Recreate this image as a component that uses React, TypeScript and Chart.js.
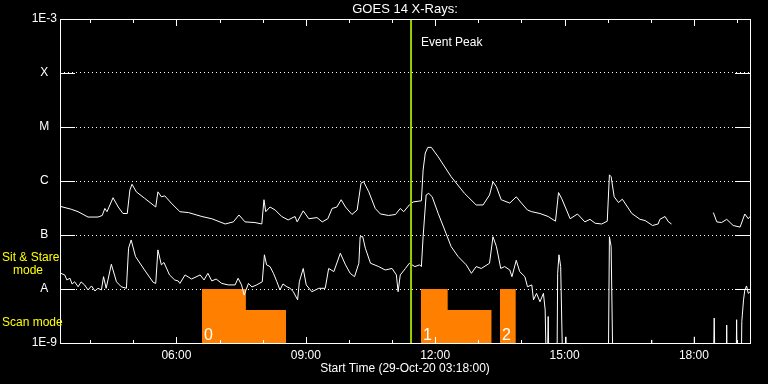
import React, { useEffect, useRef } from 'react';
import { Chart, registerables } from 'chart.js';

Chart.register(...registerables);

const FONT = "'Liberation Sans', Arial, sans-serif";

const chartTitle = 'GOES 14 X-Rays:';
const xAxisTitle = 'Start Time (29-Oct-20 03:18:00)';
const timeMin = 3.3;
const timeMax = 19.3;
const xHourTicks = [4, 5, 6, 7, 8, 9, 10, 11, 12, 13, 14, 15, 16, 17, 18, 19];
const xMajorHours = [6, 9, 12, 15, 18];
const xMajorLabels = ['06:00', '09:00', '12:00', '15:00', '18:00'];
const yTickValues = [1e-9, 1e-8, 1e-7, 1e-6, 1e-5, 1e-4, 1e-3];
const yTickLabels = ['1E-9', 'A', 'B', 'C', 'M', 'X', '1E-3'];

// Long channel (upper curve): time in hours, flux in W/m^2
const upperTime = [
  3.30, 3.56, 3.72, 3.95, 4.18, 4.28, 4.34, 4.39, 4.53, 4.65,
  4.76, 4.86, 4.92, 4.97, 5.07, 5.26, 5.46, 5.52, 5.57, 5.65,
  5.73, 5.88, 6.04, 6.08, 6.28, 6.59, 6.82, 7.13, 7.32, 7.45,
  7.59, 7.82, 7.98, 8.03, 8.07, 8.17, 8.29, 8.44, 8.59, 8.75,
  8.80, 8.94, 9.07, 9.26, 9.38, 9.51, 9.61, 9.72, 9.82, 9.92,
  10.07, 10.19, 10.28, 10.34, 10.46, 10.61, 10.73, 10.92, 11.08, 11.19,
  11.27, 11.40, 11.49, 11.68, 11.72, 11.77, 11.83, 11.91, 12.07, 12.37,
  12.68, 12.95, 13.11, 13.26, 13.34, 13.42, 13.53, 13.73, 13.88, 14.00,
  14.14, 14.24, 14.43, 14.62, 14.79, 14.86, 14.93, 15.13, 15.30, 15.47,
  15.59, 15.71, 15.86, 15.99, 16.04, 16.08, 16.15, 16.25, 16.34, 16.56,
  16.75, 16.87, 17.04, 17.17, 17.21, 17.33, 17.41, 17.48, 17.90, 18.45,
  18.53, 18.64, 18.76, 18.91, 19.07, 19.18, 19.26, 19.30,
];
const upperFlux = [
  3.4e-7, 3.0e-7, 2.7e-7, 2.15e-7, 2.15e-7, 2.3e-7, 3.1e-7, 2.7e-7, 4.9e-7, 3.3e-7,
  2.5e-7, 2.5e-7, 6.8e-7, 8.7e-7, 6.3e-7, 4.8e-7, 3.6e-7, 3.3e-7, 6.3e-7, 5.1e-7,
  5.3e-7, 3.9e-7, 2.9e-7, 2.7e-7, 2.6e-7, 2.2e-7, 2.0e-7, 1.6e-7, 1.75e-7, 2.35e-7,
  1.75e-7, 1.7e-7, 1.6e-7, 4.5e-7, 2.7e-7, 3.3e-7, 2.9e-7, 2.2e-7, 1.9e-7, 2.2e-7,
  1.75e-7, 2.8e-7, 2.0e-7, 2.1e-7, 1.75e-7, 2.0e-7, 3.1e-7, 3.3e-7, 4.5e-7, 3.3e-7,
  2.4e-7, 2.9e-7, 9.1e-7, 9.7e-7, 6.3e-7, 3.1e-7, 2.45e-7, 2.3e-7, 2.4e-7, 3.1e-7,
  2.7e-7, 3.6e-7, 4.1e-7, 4.3e-7, 1.6e-6, 3.3e-6, 4.2e-6, 4.2e-6, 2.8e-6, 1.2e-6,
  5.9e-7, 3.6e-7, 3.6e-7, 5.5e-7, 9.7e-7, 7.8e-7, 4.5e-7, 3.9e-7, 5.1e-7, 3.9e-7,
  2.9e-7, 2.7e-7, 2.5e-7, 2.2e-7, 1.8e-7, 6.1e-7, 4.8e-7, 2.0e-7, 2.45e-7, 1.75e-7,
  1.95e-7, 1.65e-7, 1.6e-7, 1.8e-7, 1.3e-6, 1.2e-6, 5.1e-7, 4.0e-7, 4.6e-7, 2.5e-7,
  1.95e-7, 1.85e-7, 1.5e-7, 1.6e-7, 1.95e-7, 2.2e-7, 1.75e-7, 1.6e-7, null, 2.6e-7,
  1.75e-7, 1.7e-7, 1.95e-7, 1.5e-7, 1.4e-7, 2.45e-7, 2.0e-7, 2.2e-7,
];

// Short channel (lower curve); 1e-10 = below the plotted range
const lowerTime = [
  3.32, 3.41, 3.46, 3.53, 3.58, 3.64, 3.72, 3.79, 3.87, 3.95,
  4.03, 4.11, 4.18, 4.26, 4.31, 4.37, 4.49, 4.61, 4.72, 4.84,
  4.89, 4.95, 5.05, 5.26, 5.46, 5.52, 5.57, 5.65, 5.71, 5.84,
  5.96, 6.04, 6.08, 6.20, 6.35, 6.55, 6.64, 6.73, 6.82, 6.92,
  7.05, 7.20, 7.36, 7.43, 7.51, 7.57, 7.67, 7.75, 7.86, 7.99,
  8.04, 8.09, 8.17, 8.25, 8.33, 8.40, 8.47, 8.56, 8.63, 8.71,
  8.81, 8.85, 8.94, 9.01, 9.14, 9.30, 9.45, 9.53, 9.65, 9.80,
  9.92, 10.03, 10.13, 10.23, 10.26, 10.32, 10.38, 10.50, 10.69, 10.84,
  11.00, 11.10, 11.14, 11.19, 11.31, 11.40, 11.53, 11.64, 11.68, 11.72,
  11.79, 11.85, 11.93, 12.07, 12.22, 12.37, 12.53, 12.72, 12.84, 12.95,
  13.07, 13.26, 13.34, 13.42, 13.52, 13.61, 13.73, 13.78, 13.88, 13.96,
  14.08, 14.14, 14.24, 14.28, 14.35, 14.43, 14.51, 14.55, 14.59, 14.62,
  14.65, 14.82, 14.84, 14.87, 14.91, 14.97, 15.00, 15.03, 15.06, 16.01,
  16.04, 16.08, 16.13, 17.00, 17.02, 17.04, 17.99, 18.01, 18.03, 18.44,
  18.47, 18.50, 18.74, 18.76, 18.78, 18.97, 18.99, 19.01, 19.09, 19.11,
  19.15, 19.18, 19.22, 19.26, 19.30,
];
const lowerFlux = [
  1.95e-8, 1.82e-8, 1.47e-8, 1.58e-8, 1.24e-8, 1.36e-8, 1.10e-8, 1.35e-8, 1.19e-8, 9.6e-9,
  1.14e-8, 9.2e-9, 1.03e-8, 9.6e-9, 1.69e-8, 1.03e-8, 2.87e-8, 1.36e-8, 1.10e-8, 1.03e-8,
  5.7e-8, 8.1e-8, 4.0e-8, 2.25e-8, 1.33e-8, 1.27e-8, 5.3e-8, 2.8e-8, 3.1e-8, 1.82e-8,
  1.47e-8, 1.41e-8, 1.27e-8, 1.82e-8, 1.53e-8, 1.82e-8, 1.47e-8, 1.95e-8, 1.41e-8, 1.53e-8,
  1.27e-8, 1.19e-8, 1.19e-8, 1.58e-8, 1.19e-8, 7.7e-9, 1.27e-8, 1.09e-8, 1.19e-8, 1.36e-8,
  4.3e-8, 2.8e-8, 2.6e-8, 1.95e-8, 1.36e-8, 9.6e-9, 1.24e-8, 1.10e-8, 1.04e-8, 8.9e-9,
  6.3e-9, 1.36e-8, 2.4e-8, 1.19e-8, 8.9e-9, 1.03e-8, 1.03e-8, 2.4e-8, 2.1e-8, 4.6e-8,
  2.8e-8, 1.95e-8, 1.69e-8, 3.0e-8, 9.3e-8, 9.3e-8, 5.7e-8, 3.0e-8, 2.6e-8, 2.25e-8,
  2.4e-8, 1.82e-8, 8.9e-9, 1.82e-8, 2.4e-8, 3.0e-8, 2.6e-8, 2.8e-8, 2.6e-8, 9.3e-8,
  5.5e-7, 5.9e-7, 5.1e-7, 2.5e-7, 1.24e-7, 6.1e-8, 4.0e-8, 2.8e-8, 1.95e-8, 2.6e-8,
  2.4e-8, 3.0e-8, 9.3e-8, 6.1e-8, 2.4e-8, 2.6e-8, 2.25e-8, 1.69e-8, 3.4e-8, 2.1e-8,
  1.69e-8, 1.10e-8, 1.19e-8, 6.3e-9, 8.3e-9, 5.8e-9, 8.3e-9, 4.1e-9, 1e-10, 3.1e-9,
  1e-10, 1e-10, 1.95e-8, 4.3e-8, 2.6e-8, 1e-10, 1e-10, 1.3e-9, 1e-10, 1e-10,
  9.3e-8, 6.1e-8, 1e-10, 1e-10, 1.14e-9, 1e-10, 1e-10, 1.3e-9, 1e-10, 1e-10,
  2.9e-9, 1e-10, 1e-10, 2.15e-9, 1e-10, 1e-10, 2.7e-9, 1e-10, 1e-10, 2.5e-9,
  6.3e-9, 9.6e-9, 1.14e-8, 8.3e-9, 8.9e-9,
];

// Scan-mode blocks (stepped, null separates blocks)
const scanTime = [6.59, 7.61, 8.54, 8.60, 11.67, 12.29, 13.31, 13.40, 13.50, 13.87];
const scanLevel = [1e-8, 4.1e-9, 4.1e-9, null, 1e-8, 4.1e-9, 4.1e-9, null, 1e-8, 1e-8];
const scanLabels = ['0', '1', '2'];
const scanLabelTime = [6.59, 11.67, 13.50];

const eventPeakTime = 11.44;
const eventPeakLabel = 'Event Peak';
const sitStareLines = ['Sit & Stare', 'mode'];
const scanModeLabel = 'Scan mode';

const overlayPlugin = {
  id: 'overlay',
  afterDatasetsDraw(chart: any) {
    const { ctx, chartArea: a, scales } = chart;
    const x = scales.x;
    const y = scales.y;
    ctx.save();
    ctx.strokeStyle = '#ffffff';
    ctx.lineWidth = 1;
    ctx.setLineDash([]);
    // frame
    ctx.strokeRect(a.left + 0.5, a.top + 0.5, a.right - a.left, a.bottom - a.top);
    ctx.beginPath();
    // y ticks (both sides)
    yTickValues.forEach((v) => {
      const py = Math.round(y.getPixelForValue(v)) + 0.5;
      ctx.moveTo(a.left, py);
      ctx.lineTo(a.left + 15, py);
      ctx.moveTo(a.right - 15, py);
      ctx.lineTo(a.right + 1, py);
    });
    // x ticks (top and bottom, inside)
    xHourTicks.forEach((h) => {
      const px = Math.round(x.getPixelForValue(h)) + 0.5;
      const len = xMajorHours.includes(h) ? 7 : 4;
      ctx.moveTo(px, a.top);
      ctx.lineTo(px, a.top + len);
      ctx.moveTo(px, a.bottom + 1);
      ctx.lineTo(px, a.bottom + 1 - len);
    });
    ctx.stroke();

    ctx.fillStyle = '#ffffff';
    ctx.font = `12px ${FONT}`;
    ctx.textBaseline = 'middle';
    ctx.textAlign = 'left';
    ctx.fillText(eventPeakLabel, x.getPixelForValue(eventPeakTime) + 10, a.top + 24);

    ctx.font = `16px ${FONT}`;
    ctx.textBaseline = 'alphabetic';
    scanLabels.forEach((lab, i) => {
      ctx.fillText(lab, x.getPixelForValue(scanLabelTime[i]) + 2, a.bottom - 3);
    });

    ctx.fillStyle = '#ffff00';
    ctx.font = `12px ${FONT}`;
    ctx.textBaseline = 'middle';
    ctx.fillText(sitStareLines[0], 2, 258);
    ctx.fillText(sitStareLines[1], 13, 271);
    ctx.fillText(scanModeLabel, 2, 323);
    ctx.restore();
  },
};

export default function App() {
  const ref = useRef<HTMLCanvasElement>(null);

  useEffect(() => {
    const upperData = upperTime.map((t, i) => ({ x: t, y: upperFlux[i] }));
    const lowerData = lowerTime.map((t, i) => ({ x: t, y: lowerFlux[i] }));
    const scanData = scanTime.map((t, i) => ({ x: t, y: scanLevel[i] }));
    const peakData = [
      { x: eventPeakTime, y: yTickValues[0] },
      { x: eventPeakTime, y: yTickValues[yTickValues.length - 1] },
    ];

    const chart = new Chart(ref.current as HTMLCanvasElement, {
      type: 'line',
      data: {
        datasets: [
          {
            label: 'Event Peak',
            data: peakData as any,
            borderColor: '#9acd00',
            borderWidth: 2,
            pointRadius: 0,
            order: 0,
          },
          {
            label: '1-8 A',
            data: upperData as any,
            borderColor: '#ffffff',
            borderWidth: 1,
            pointRadius: 0,
            spanGaps: false,
            tension: 0,
            order: 1,
          },
          {
            label: '0.5-4 A',
            data: lowerData as any,
            borderColor: '#ffffff',
            borderWidth: 1,
            pointRadius: 0,
            tension: 0,
            order: 2,
          },
          {
            label: 'Scan',
            data: scanData as any,
            stepped: true,
            fill: 'start',
            backgroundColor: '#ff8000',
            borderColor: '#ff8000',
            borderWidth: 0,
            pointRadius: 0,
            spanGaps: false,
            order: 3,
          },
        ],
      },
      options: {
        animation: false,
        responsive: false,
        maintainAspectRatio: false,
        events: [],
        layout: { padding: { left: 0, right: 18, top: 0, bottom: 0 } },
        plugins: {
          legend: { display: false },
          tooltip: { enabled: false },
          title: {
            display: true,
            text: chartTitle,
            color: '#ffffff',
            fullSize: false,
            font: { family: FONT, size: 13, weight: 'normal' },
            padding: { top: 2, bottom: 1.4 },
          },
        },
        scales: {
          x: {
            type: 'linear',
            min: timeMin,
            max: timeMax,
            afterBuildTicks: (s: any) => {
              s.ticks = xHourTicks.map((v) => ({ value: v }));
            },
            afterFit: (s: any) => {
              s.height = 41;
            },
            grid: { display: false, drawTicks: false },
            border: { display: false },
            ticks: {
              color: '#ffffff',
              font: { family: FONT, size: 12 },
              padding: 5,
              autoSkip: false,
              maxRotation: 0,
              minRotation: 0,
              callback: (v: any) => {
                const i = xMajorHours.indexOf(Number(v));
                return i >= 0 ? xMajorLabels[i] : '';
              },
            },
            title: {
              display: true,
              text: xAxisTitle,
              color: '#ffffff',
              font: { family: FONT, size: 12 },
              padding: { top: 0, bottom: 8.5 },
            },
          },
          y: {
            type: 'logarithmic',
            min: yTickValues[0],
            max: yTickValues[yTickValues.length - 1],
            afterBuildTicks: (s: any) => {
              s.ticks = yTickValues.map((v) => ({ value: v }));
            },
            afterFit: (s: any) => {
              s.width = 60;
            },
            grid: { color: '#ffffff', lineWidth: 1, drawTicks: false },
            border: { display: false, dash: [1, 3] },
            ticks: {
              color: '#ffffff',
              font: { family: FONT, size: 12 },
              padding: 3,
              crossAlign: 'center',
              autoSkip: false,
              callback: (_v: any, i: number) => yTickLabels[i],
            },
          },
        },
      },
      plugins: [overlayPlugin],
    } as any);

    return () => chart.destroy();
  }, []);

  return (
    <div
      style={{
        position: 'fixed',
        left: 0,
        top: 0,
        width: 768,
        height: 384,
        background: '#000000',
      }}
    >
      <canvas ref={ref} width={768} height={384} style={{ display: 'block' }} />
    </div>
  );
}
